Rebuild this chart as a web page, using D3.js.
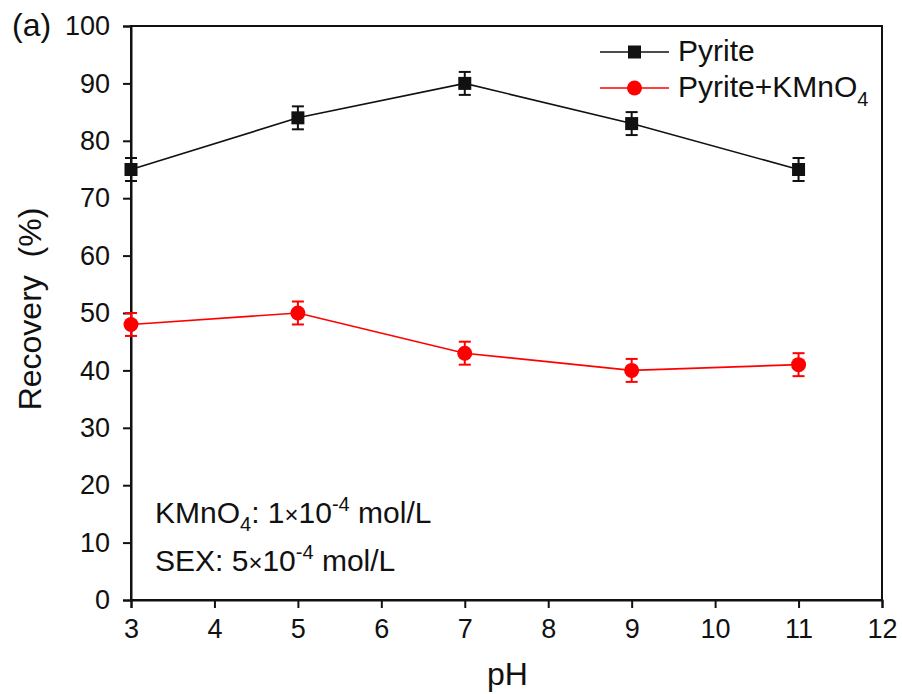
<!DOCTYPE html>
<html>
<head>
<meta charset="utf-8">
<script src="https://cdn.jsdelivr.net/npm/d3@7"></script>
<style>
  body { margin: 0; background: #fff; }
  text { font-family: "Liberation Sans", Arial, sans-serif; fill: #111; }
</style>
</head>
<body>
<svg id="chart" width="902" height="694"></svg>
<script>
// data
let phValues = [3, 5, 7, 9, 11];
let pyrite = [75, 84, 90, 83, 75];
let pyriteKMnO4 = [48, 50, 43, 40, 41];
let pyriteErr = [2, 2, 2, 2, 2];
let kmnErr = [2, 2, 2, 2, 2];
let xTicks = [3, 4, 5, 6, 7, 8, 9, 10, 11, 12];
let yTicks = [0, 10, 20, 30, 40, 50, 60, 70, 80, 90, 100];

let svg = d3.select('#chart');
let plotLeft = 131, plotRight = 882, plotTop = 26, plotBottom = 600;

let x = d3.scaleLinear().domain([3, 12]).range([plotLeft, plotRight]);
let y = d3.scaleLinear().domain([0, 100]).range([plotBottom, plotTop]);

// frame
svg.append('rect')
  .attr('x', plotLeft).attr('y', plotTop)
  .attr('width', plotRight - plotLeft).attr('height', plotBottom - plotTop)
  .attr('fill', 'none').attr('stroke', '#111').attr('stroke-width', 2);

let xAxis = svg.append('g')
  .attr('transform', 'translate(0,' + plotBottom + ')')
  .call(d3.axisBottom(x).tickValues(xTicks).tickSize(8).tickPadding(6).tickFormat(d3.format('d')));
let yAxis = svg.append('g')
  .attr('transform', 'translate(' + plotLeft + ',0)')
  .call(d3.axisLeft(y).tickValues(yTicks).tickSize(8).tickPadding(13).tickFormat(d3.format('d')));

for (let ax of [xAxis, yAxis]) {
  ax.select('.domain').attr('stroke', '#111').attr('stroke-width', 2);
  ax.selectAll('.tick line').attr('stroke', '#111').attr('stroke-width', 2);
  ax.selectAll('.tick text').attr('font-size', 27).attr('fill', '#111')
    .attr('font-family', '"Liberation Sans", Arial, sans-serif');
}
xAxis.selectAll('.tick text').attr('dy', '0.9em');

// axis titles
svg.append('text')
  .attr('x', (plotLeft + plotRight) / 2 + 1).attr('y', 685)
  .attr('text-anchor', 'middle').attr('font-size', 32)
  .text('pH');
svg.append('text')
  .attr('transform', 'translate(41,309) rotate(-90)')
  .attr('text-anchor', 'middle').attr('font-size', 32)
  .attr('xml:space', 'preserve')
  .text('Recovery  (%)');

svg.append('text')
  .attr('x', 12).attr('y', 36).attr('font-size', 32)
  .text('(a)');

function drawSeries(vals, errs, color, shape) {
  let pts = phValues.map(function(p, i) { return {x: p, y: vals[i], e: errs[i]}; });
  let g = svg.append('g');
  g.append('path')
    .datum(pts)
    .attr('d', d3.line().x(function(d) { return x(d.x); }).y(function(d) { return y(d.y); }))
    .attr('fill', 'none').attr('stroke', color).attr('stroke-width', 1.6);

  let eb = g.selectAll('.err').data(pts).enter().append('g');
  eb.append('line')
    .attr('x1', function(d) { return x(d.x); }).attr('x2', function(d) { return x(d.x); })
    .attr('y1', function(d) { return y(d.y - d.e); }).attr('y2', function(d) { return y(d.y + d.e); })
    .attr('stroke', color).attr('stroke-width', 2);
  for (let s of [-1, 1]) {
    eb.append('line')
      .attr('x1', function(d) { return x(d.x) - 6; }).attr('x2', function(d) { return x(d.x) + 6; })
      .attr('y1', function(d) { return y(d.y + s * d.e); }).attr('y2', function(d) { return y(d.y + s * d.e); })
      .attr('stroke', color).attr('stroke-width', 2);
  }

  if (shape == 'square') {
    g.selectAll('.mk').data(pts).enter().append('rect')
      .attr('x', function(d) { return x(d.x) - 6.5; })
      .attr('y', function(d) { return y(d.y) - 6.5; })
      .attr('width', 13).attr('height', 13)
      .attr('fill', color);
  } else {
    g.selectAll('.mk').data(pts).enter().append('circle')
      .attr('cx', function(d) { return x(d.x); })
      .attr('cy', function(d) { return y(d.y); })
      .attr('r', 7.5)
      .attr('fill', color);
  }
}

drawSeries(pyrite, pyriteErr, '#111', 'square');
drawSeries(pyriteKMnO4, kmnErr, '#ff0000', 'circle');

// legend
let legend = [
  {label: 'Pyrite', color: '#111', shape: 'square', sub: null},
  {label: 'Pyrite+KMnO', color: '#ff0000', shape: 'circle', sub: '4'}
];
let ly = 52;
for (let item of legend) {
  let g = svg.append('g');
  g.append('line')
    .attr('x1', 600).attr('x2', 669).attr('y1', ly).attr('y2', ly)
    .attr('stroke', item.color).attr('stroke-width', 1.6);
  if (item.shape == 'square') {
    g.append('rect').attr('x', 628).attr('y', ly - 6.5).attr('width', 13).attr('height', 13)
      .attr('fill', item.color);
  } else {
    g.append('circle').attr('cx', 634.5).attr('cy', ly).attr('r', 7.5).attr('fill', item.color);
  }
  let t = g.append('text').attr('x', 678).attr('y', ly + 9).attr('font-size', 30).text(item.label);
  if (item.sub) {
    t.append('tspan').attr('font-size', 20).attr('dy', 9).text(item.sub);
  }
  ly += 36;
}

// annotation
let note1 = svg.append('text').attr('x', 155).attr('y', 523).attr('font-size', 30);
note1.append('tspan').text('KMnO');
note1.append('tspan').attr('font-size', 20).attr('dy', 8).text('4');
note1.append('tspan').attr('dy', -8).text(': 1');
note1.append('tspan').attr('font-size', 24).text('\u00d7');
note1.append('tspan').text('10');
note1.append('tspan').attr('font-size', 20).attr('dy', -12).text('-4');
note1.append('tspan').attr('dy', 12).text(' mol/L');

let note2 = svg.append('text').attr('x', 155).attr('y', 571).attr('font-size', 30);
note2.append('tspan').text('SEX: 5');
note2.append('tspan').attr('font-size', 24).text('\u00d7');
note2.append('tspan').text('10');
note2.append('tspan').attr('font-size', 20).attr('dy', -12).text('-4');
note2.append('tspan').attr('dy', 12).text(' mol/L');
</script>
</body>
</html>
